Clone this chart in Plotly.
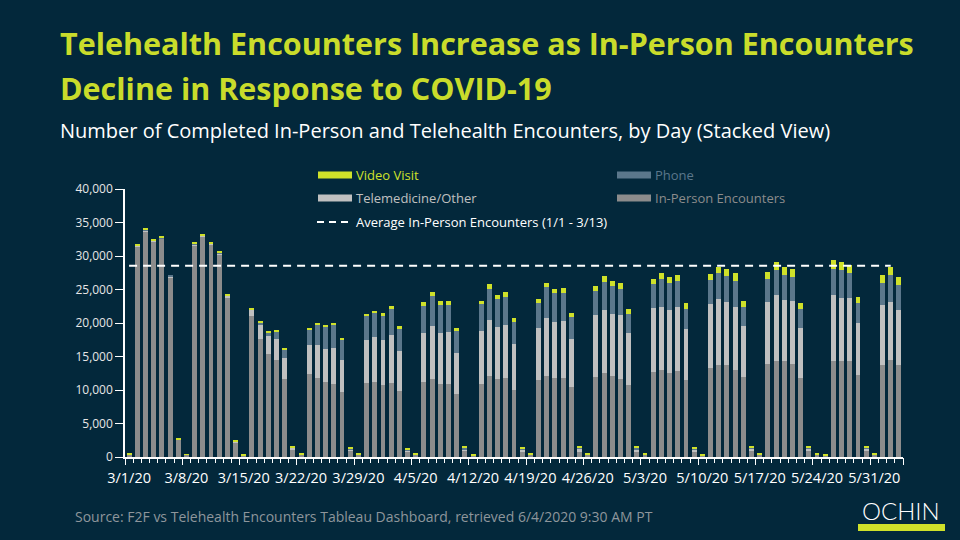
import plotly.graph_objects as go
import pandas as pd

# ---------------- data ----------------
dates = pd.date_range("2020-03-01", "2020-06-03", freq="D")
day_labels = [f"{d.month}/{d.day}/{d.strftime('%y')}" for d in dates]

in_person = [430, 31370, 33620, 32220, 32570, 26800, 2650, 330, 31620, 32870,
             31720, 30180, 23760, 2200, 280, 21070, 17630, 15390, 14490, 11650,
             1150, 350, 12400, 11800, 11210, 10910, 9710, 900, 300, 11060,
             11210, 10760, 11060, 9860, 750, 300, 11210, 11650, 10910, 10910,
             9410, 900, 150, 10910, 12100, 11650, 11800, 10010, 750, 300,
             11500, 12100, 11800, 11800, 10460, 750, 300, 11950, 12550, 12100,
             11650, 10760, 750, 300, 12700, 13000, 12550, 12850, 11500, 750,
             200, 13300, 13750, 13750, 13000, 11950, 900, 300, 13890, 14340,
             14340, 13890, 11800, 900, 300, 150, 14340, 14340, 14340, 12250,
             900, 300, 13750, 14490, 13750]
telemedicine = [10, 150, 250, 50, 100, 80, 20, 10, 100, 200,
                100, 250, 350, 100, 10, 950, 2090, 2690, 3140, 3140,
                250, 50, 4330, 4930, 4930, 5380, 4780, 250, 50, 6420,
                6720, 6720, 7170, 5980, 250, 50, 7320, 7920, 7620, 7770,
                6130, 250, 100, 7920, 8370, 7770, 7920, 6870, 300, 60,
                7770, 8670, 8370, 8520, 7170, 450, 60, 9260, 9410, 9260,
                9560, 7770, 400, 60, 9560, 9410, 9410, 9560, 7620, 300,
                50, 9560, 9860, 9410, 9460, 7620, 400, 80, 9260, 9860,
                9110, 9410, 7470, 350, 80, 50, 9860, 9410, 9410, 7770,
                350, 80, 8960, 8670, 8220]
phone = [5, 50, 50, 30, 30, 170, 15, 5, 200, 50,
         50, 50, 50, 80, 5, 50, 400, 550, 1050, 1300,
         50, 20, 2240, 2990, 3290, 3340, 2940, 100, 30, 3590,
         3540, 3590, 3880, 3290, 100, 30, 4030, 4480, 4180, 4030,
         3290, 200, 30, 4030, 4630, 4180, 4180, 3290, 200, 30,
         3740, 4630, 4330, 4180, 3290, 200, 30, 3590, 4180, 4180,
         3880, 2840, 200, 30, 3590, 4180, 4030, 3880, 2990, 150,
         20, 3590, 3880, 3880, 3880, 2840, 100, 30, 3440, 3740,
         3740, 3590, 2840, 150, 40, 50, 3880, 4180, 3740, 2990,
         150, 40, 3290, 4030, 3740]
video = [5, 150, 150, 120, 150, 0, 5, 5, 50, 200,
         100, 150, 200, 10, 5, 200, 200, 200, 150, 200,
         100, 30, 300, 300, 300, 300, 300, 150, 70, 300,
         350, 450, 450, 450, 100, 70, 600, 600, 600, 600,
         450, 200, 20, 450, 750, 600, 750, 600, 150, 60,
         600, 600, 600, 750, 600, 150, 60, 750, 900, 750,
         900, 750, 200, 60, 750, 900, 900, 900, 900, 200,
         30, 900, 900, 1050, 1050, 900, 250, 40, 1050, 1200,
         1200, 1200, 900, 150, 30, 50, 1350, 1200, 1200, 900,
         150, 30, 1200, 1200, 1200]
avg_in_person = 28540  # Average In-Person Encounters (1/1 - 3/13)

series_names = ["In-Person Encounters", "Telemedicine/Other", "Phone", "Video Visit"]
y_ticks = [0, 5000, 10000, 15000, 20000, 25000, 30000, 35000, 40000]

# ---------------- styling ----------------
BG = "#03283b"
C_VIDEO = "#cfe12a"
C_TITLE = "#c9dc2b"
C_PHONE = "#5b778b"
C_TELE = "#c0c0c0"
C_INP = "#8c8c8c"
FONT = "Open Sans"

W, H = 960, 540
L, R, T, B = 125, 57, 189, 83
PW, PH = W - L - R, H - T - B


def px(x):
    return (x - L) / PW


def py(y):
    return (H - B - y) / PH


xs = list(range(len(dates)))
sundays = [i for i, d in enumerate(dates) if d.weekday() == 6]
week_bounds = [i - 0.5 for i in sundays] + [len(dates) - 0.5]

fig = go.Figure()
for name, vals, col in zip(series_names, [in_person, telemedicine, phone, video],
                           [C_INP, C_TELE, C_PHONE, C_VIDEO]):
    fig.add_trace(go.Bar(x=xs, y=vals, name=name, marker=dict(color=col, line=dict(width=0)),
                         width=0.6, showlegend=False))

fig.add_trace(go.Scatter(x=[xs[0], xs[-2]], y=[avg_in_person, avg_in_person], mode="lines",
                         line=dict(color="white", width=2, dash="8px,6px"),
                         xaxis="x2", showlegend=False,
                         name="Average In-Person Encounters (1/1 - 3/13)"))

fig.update_layout(
    width=W, height=H,
    margin=dict(l=L, r=R, t=T, b=B),
    paper_bgcolor=BG, plot_bgcolor=BG,
    barmode="stack",
    font=dict(family=FONT, color="white"),
    xaxis=dict(range=[-0.5, len(dates) - 0.5], tickmode="array", tickvals=sundays,
               ticktext=[day_labels[i] for i in sundays], ticks="outside", ticklen=7,
               tickcolor="rgba(0,0,0,0)", showline=True, linecolor="white", linewidth=1.5,
               showgrid=False, zeroline=False, tickfont=dict(size=14.5, color="white"),
               minor=dict(ticks="outside", tick0=0.5, dtick=1, ticklen=4, tickcolor="white",
                          tickwidth=1, showgrid=False)),
    xaxis2=dict(range=[-0.5, len(dates) - 0.5], overlaying="x", anchor="y", side="bottom",
                tickmode="array", tickvals=week_bounds, ticks="outside", ticklen=7,
                tickcolor="white", tickwidth=1, showticklabels=False, showgrid=False,
                zeroline=False, showline=False),
    yaxis=dict(range=[0, 40000], tickmode="array", tickvals=y_ticks, tickformat=",",
               ticks="outside", ticklen=8, tickcolor="white", tickwidth=1,
               showline=True, linecolor="white", linewidth=1.5, showgrid=False, zeroline=False,
               tickfont=dict(size=12, color="#e6e6e6")),
)

ann = []
shapes = []
# titles
ann.append(dict(text="<b>Telehealth Encounters Increase as In-Person Encounters</b>",
                x=px(58), y=py(43), xref="paper", yref="paper", xanchor="left", yanchor="middle",
                showarrow=False, font=dict(size=30.5, color=C_TITLE, family=FONT)))
ann.append(dict(text="<b>Decline in Response to COVID-19</b>",
                x=px(58), y=py(88), xref="paper", yref="paper", xanchor="left", yanchor="middle",
                showarrow=False, font=dict(size=30.5, color=C_TITLE, family=FONT)))
ann.append(dict(text="Number of Completed In-Person and Telehealth Encounters, by Day (Stacked View)",
                x=px(58), y=py(131), xref="paper", yref="paper", xanchor="left", yanchor="middle",
                showarrow=False, font=dict(size=20, color="white", family=FONT)))
# source + logo
ann.append(dict(text="Source: F2F vs Telehealth Encounters Tableau Dashboard, retrieved 6/4/2020 9:30 AM PT",
                x=px(73), y=py(516), xref="paper", yref="paper", xanchor="left", yanchor="middle",
                showarrow=False, font=dict(size=14, color="#8e969c", family=FONT)))
ann.append(dict(text="OCHIN", x=px(901), y=py(510), xref="paper", yref="paper",
                xanchor="center", yanchor="middle", showarrow=False,
                font=dict(size=24, color="white", family="Lato", weight=300)))
shapes.append(dict(type="rect", xref="paper", yref="paper", x0=px(858), x1=px(945),
                   y0=py(531), y1=py(524), fillcolor=C_VIDEO, line=dict(width=0)))

# custom legend
legend_items = [
    ("Video Visit", C_VIDEO, C_VIDEO, 318, 175),
    ("Phone", C_PHONE, C_PHONE, 617, 175),
    ("Telemedicine/Other", C_TELE, C_TELE, 318, 198),
    ("In-Person Encounters", C_INP, C_INP, 617, 198),
]
for label, sw, tc, x0, yc in legend_items:
    shapes.append(dict(type="rect", xref="paper", yref="paper", x0=px(x0), x1=px(x0 + 34),
                       y0=py(yc + 3.5), y1=py(yc - 3.5), fillcolor=sw, line=dict(width=0)))
    ann.append(dict(text=label, x=px(x0 + 36), y=py(yc), xref="paper", yref="paper",
                    xanchor="left", yanchor="middle", showarrow=False,
                    font=dict(size=13, color=tc, family=FONT)))
shapes.append(dict(type="line", xref="paper", yref="paper", x0=px(317), x1=px(351),
                   y0=py(222), y1=py(222), line=dict(color="white", width=2, dash="7px,5px")))
ann.append(dict(text="Average In-Person Encounters (1/1 - 3/13)", x=px(354), y=py(222),
                xref="paper", yref="paper", xanchor="left", yanchor="middle", showarrow=False,
                font=dict(size=13, color="white", family=FONT)))

fig.update_layout(annotations=ann, shapes=shapes)
fig.write_html("out.html")
